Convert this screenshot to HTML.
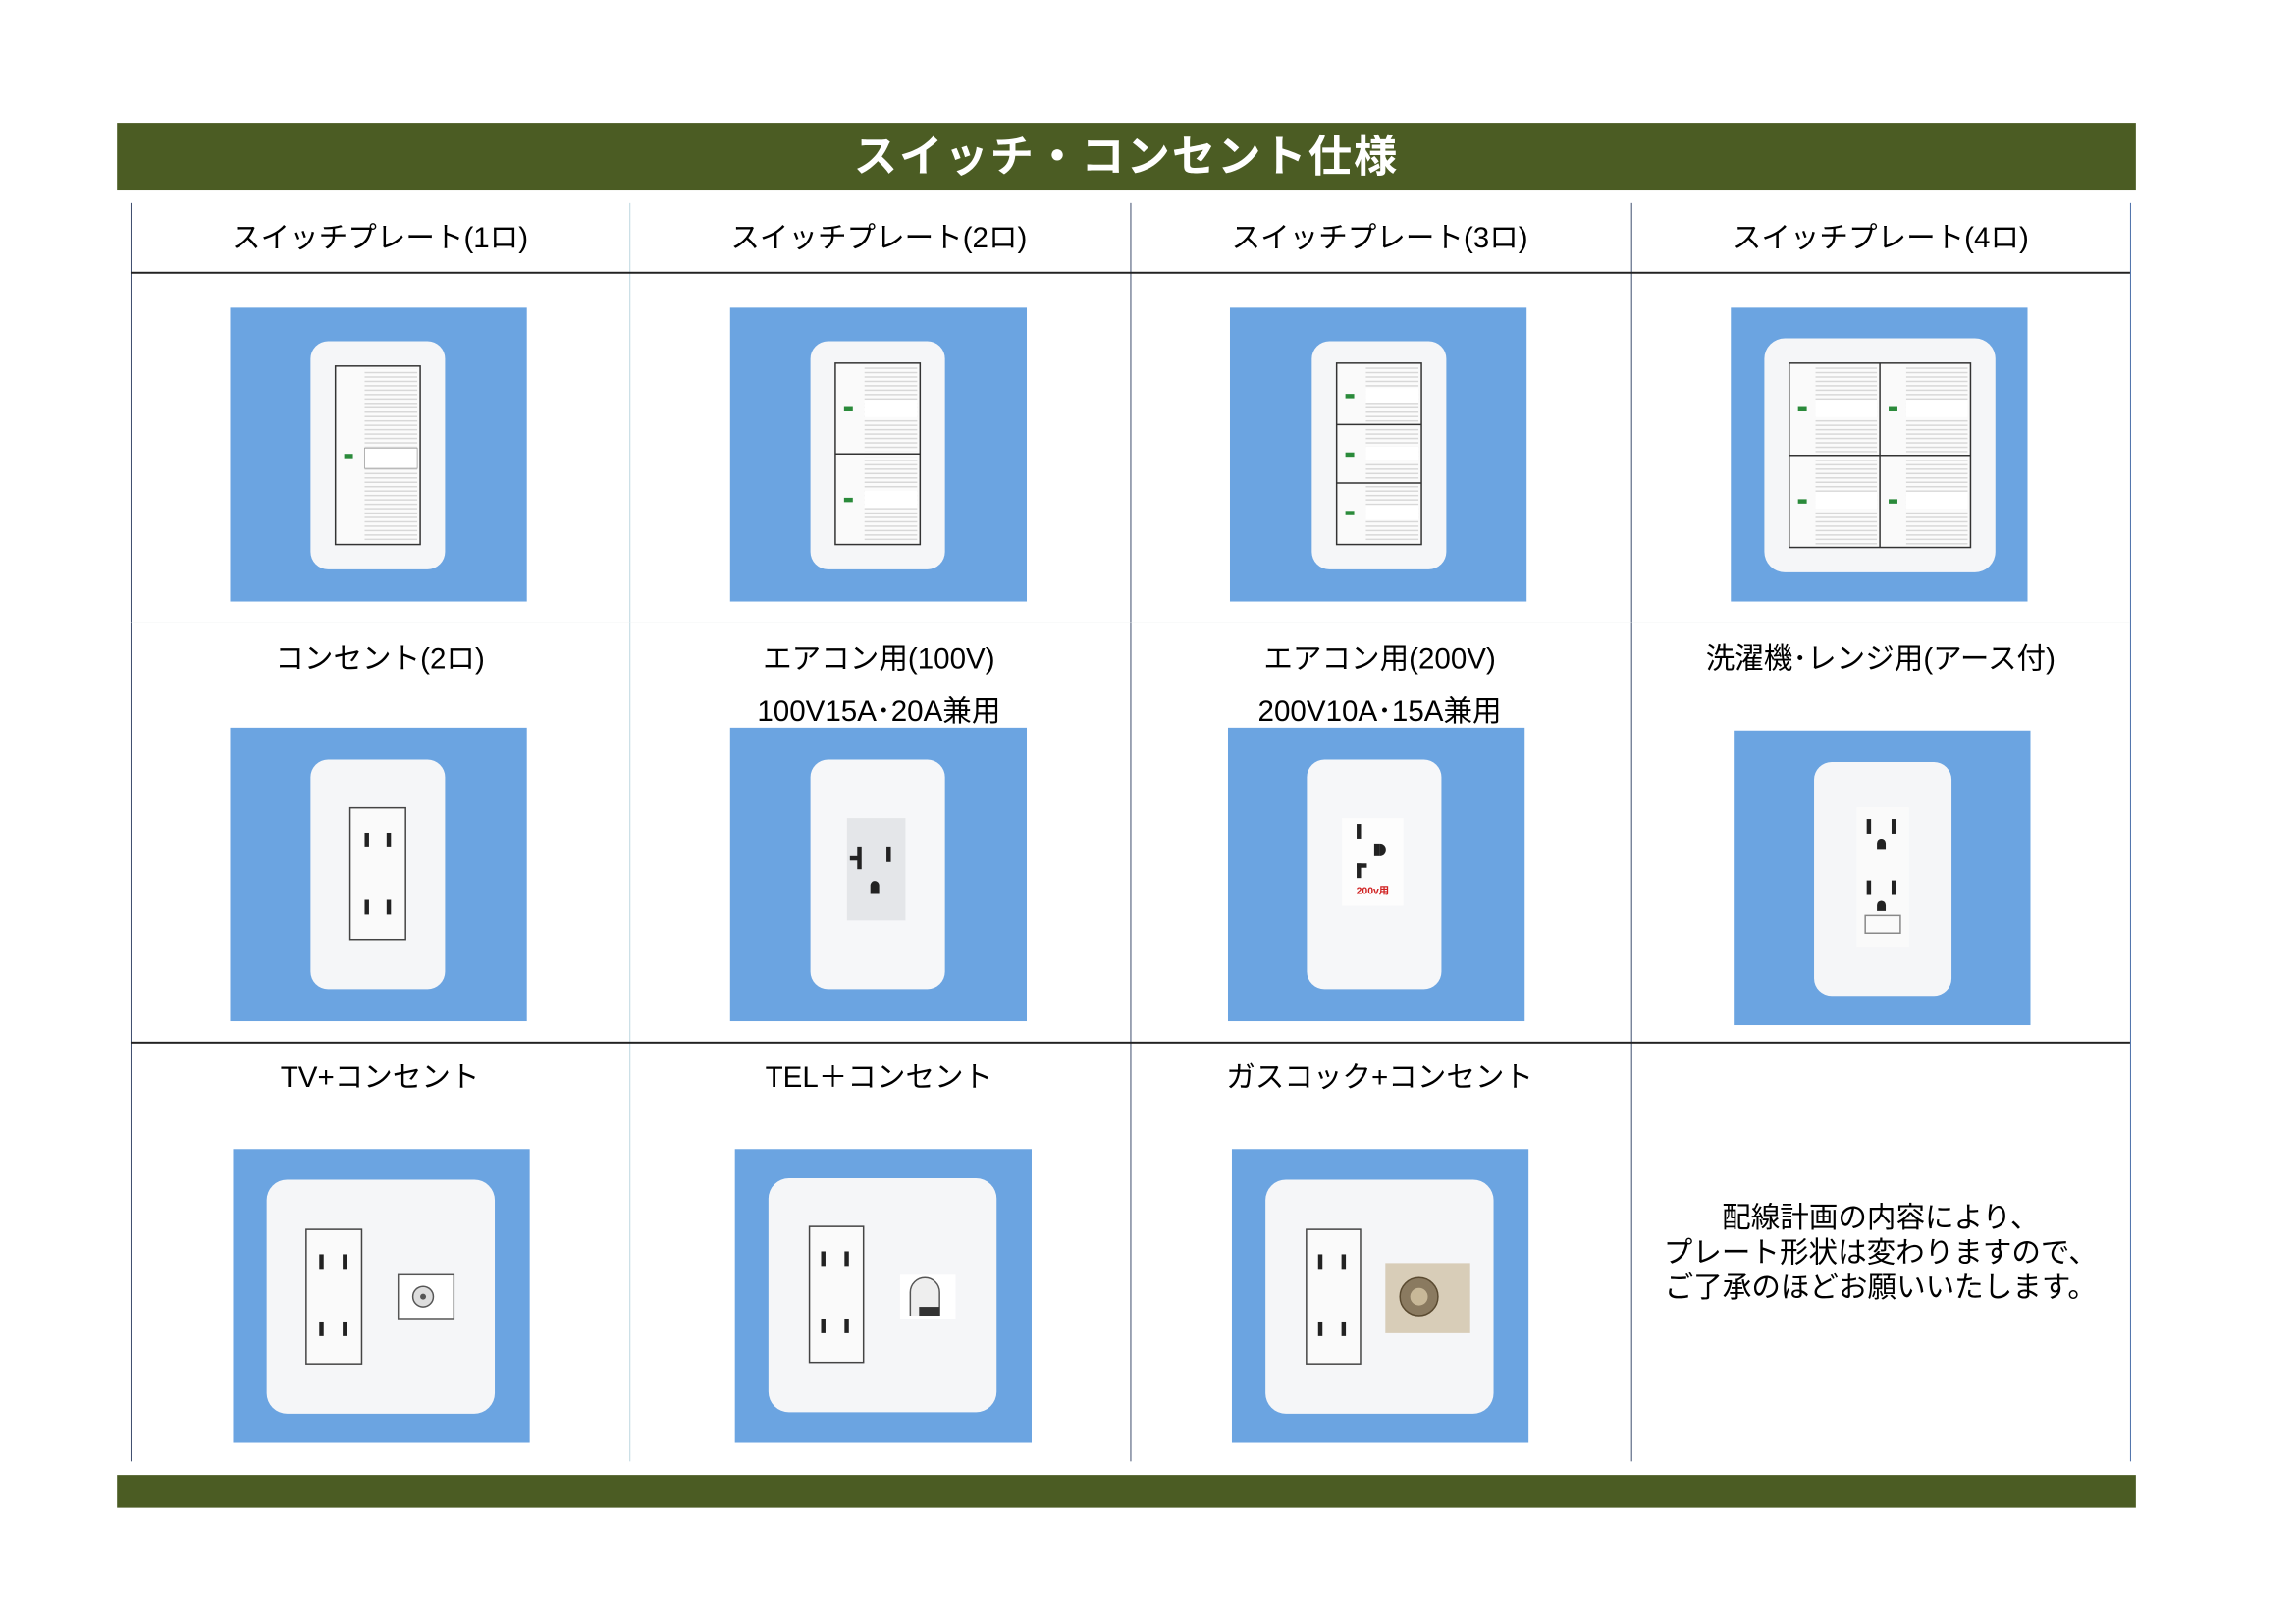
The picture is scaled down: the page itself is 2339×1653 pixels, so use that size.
<!DOCTYPE html>
<html><head><meta charset="utf-8"><style>
body{margin:0;width:2339px;height:1653px;background:#fff;position:relative;overflow:hidden;font-family:"Liberation Sans","Noto Sans CJK JP",sans-serif;}
#w{position:absolute;left:0;top:0;width:2339px;height:1653px;transform:scale(0.985);transform-origin:0 0;}
.a{position:absolute;}
.bar{background:#4b5c23;left:121px;width:2088px;}
.vl{position:absolute;width:1px;background:#3a4a6a;}
.hl{position:absolute;height:2px;background:#222;left:135px;width:2068px;}
.lb{position:absolute;width:516px;text-align:center;font-size:30px;color:#000;}
svg.b{position:absolute;width:307px;height:304px;}
</style></head><body><div id="w">
<div class="a bar" style="top:127px;height:70px;"></div>
<div class="a" style="top:127px;left:121px;width:2088px;height:70px;line-height:70px;text-align:center;color:#fff;font-size:45px;font-weight:bold;letter-spacing:2px;">スイッチ・コンセント仕様</div>
<div class="a bar" style="top:1525px;height:34px;"></div>

<div class="vl" style="left:135px;top:210px;height:1301px;"></div>
<div class="vl" style="left:651px;top:210px;height:1301px;background:#bcd6e0"></div>
<div class="vl" style="left:1169px;top:210px;height:1301px;"></div>
<div class="vl" style="left:1687px;top:210px;height:1301px;"></div>
<div class="vl" style="left:2203px;top:210px;height:1301px;background:#4a6ea8"></div>
<div class="hl" style="top:281px;"></div>
<div class="hl" style="top:643px;height:1px;background:#eef2f2"></div>
<div class="hl" style="top:1077px;"></div>

<div class="lb" style="left:135px;top:221px;">スイッチプレート(1ロ)</div>
<div class="lb" style="left:651px;top:221px;">スイッチプレート(2ロ)</div>
<div class="lb" style="left:1169px;top:221px;">スイッチプレート(3ロ)</div>
<div class="lb" style="left:1687px;top:221px;">スイッチプレート(4ロ)</div>
<div class="lb" style="left:135px;top:656px;">コンセント(2ロ)</div>
<div class="lb" style="left:651px;top:656px;">エアコン用(100V)</div>
<div class="lb" style="left:1169px;top:656px;">エアコン用(200V)</div>
<div class="lb" style="left:1687px;top:656px;">洗濯機･レンジ用(アース付)</div>
<div class="lb" style="left:651px;top:710px;">100V15A･20A兼用</div>
<div class="lb" style="left:1169px;top:710px;">200V10A･15A兼用</div>
<div class="lb" style="left:135px;top:1089px;">TV+コンセント</div>
<div class="lb" style="left:651px;top:1089px;">TEL＋コンセント</div>
<div class="lb" style="left:1169px;top:1089px;">ガスコック+コンセント</div>
<div class="lb" style="left:1687px;top:1242px;line-height:36px;">配線計画の内容により、<br>プレート形状は変わりますので、<br>ご了承のほどお願いいたします。</div>

<svg width="0" height="0" style="position:absolute"><defs>
<pattern id="st" width="4" height="3" patternUnits="userSpaceOnUse"><rect width="4" height="3" fill="#fbfbfb"/><rect y="2" width="4" height="1" fill="#d8d8d8"/></pattern>
</defs></svg>

<!-- row1 -->
<svg class="b" style="left:238px;top:318px" viewBox="0 0 203 201"><rect width="203" height="201" fill="#6ba4e1"/>
<rect x="55" y="23" width="92" height="156" rx="12" fill="#f5f6f8"/>
<rect x="72" y="40" width="58" height="122" fill="#fafafa" stroke="#333" stroke-width="1"/>
<rect x="92" y="42" width="36" height="118" fill="url(#st)"/><rect x="92" y="96" width="36" height="14" fill="#fff" stroke="#999" stroke-width=".5"/>
<rect x="78" y="100" width="6" height="3" fill="#2a8a3a"/></svg>

<svg class="b" style="left:755px;top:318px" viewBox="0 0 203 201"><rect width="203" height="201" fill="#6ba4e1"/>
<rect x="55" y="23" width="92" height="156" rx="12" fill="#f5f6f8"/>
<rect x="72" y="38" width="58" height="124" fill="#fafafa" stroke="#333"/><line x1="72" y1="100" x2="130" y2="100" stroke="#333"/>
<rect x="92" y="40" width="36" height="58" fill="url(#st)"/><rect x="92" y="102" width="36" height="58" fill="url(#st)"/>
<rect x="92" y="63" width="36" height="12" fill="#fff"/><rect x="92" y="125" width="36" height="12" fill="#fff"/>
<rect x="78" y="68" width="6" height="3" fill="#2a8a3a"/><rect x="78" y="130" width="6" height="3" fill="#2a8a3a"/></svg>

<svg class="b" style="left:1272px;top:318px" viewBox="0 0 203 201"><rect width="203" height="201" fill="#6ba4e1"/>
<rect x="56" y="23" width="92" height="156" rx="12" fill="#f5f6f8"/>
<rect x="73" y="38" width="58" height="124" fill="#fafafa" stroke="#333"/><line x1="73" y1="80" x2="131" y2="80" stroke="#333"/><line x1="73" y1="120" x2="131" y2="120" stroke="#333"/>
<rect x="93" y="40" width="36" height="38" fill="url(#st)"/><rect x="93" y="82" width="36" height="36" fill="url(#st)"/><rect x="93" y="122" width="36" height="38" fill="url(#st)"/>
<rect x="93" y="55" width="36" height="10" fill="#fff"/><rect x="93" y="95" width="36" height="10" fill="#fff"/><rect x="93" y="135" width="36" height="10" fill="#fff"/>
<rect x="79" y="59" width="6" height="3" fill="#2a8a3a"/><rect x="79" y="99" width="6" height="3" fill="#2a8a3a"/><rect x="79" y="139" width="6" height="3" fill="#2a8a3a"/></svg>

<svg class="b" style="left:1790px;top:318px" viewBox="0 0 203 201"><rect width="203" height="201" fill="#6ba4e1"/>
<rect x="23" y="21" width="158" height="160" rx="14" fill="#f5f6f8"/>
<rect x="40" y="38" width="124" height="126" fill="#fafafa" stroke="#333"/><line x1="102" y1="38" x2="102" y2="164" stroke="#333"/><line x1="40" y1="101" x2="164" y2="101" stroke="#333"/>
<rect x="58" y="40" width="42" height="59" fill="url(#st)"/><rect x="120" y="40" width="42" height="59" fill="url(#st)"/><rect x="58" y="103" width="42" height="59" fill="url(#st)"/><rect x="120" y="103" width="42" height="59" fill="url(#st)"/>
<rect x="58" y="63" width="42" height="12" fill="#fff"/><rect x="120" y="63" width="42" height="12" fill="#fff"/><rect x="58" y="126" width="42" height="12" fill="#fff"/><rect x="120" y="126" width="42" height="12" fill="#fff"/>
<rect x="46" y="68" width="6" height="3" fill="#2a8a3a"/><rect x="108" y="68" width="6" height="3" fill="#2a8a3a"/><rect x="46" y="131" width="6" height="3" fill="#2a8a3a"/><rect x="108" y="131" width="6" height="3" fill="#2a8a3a"/></svg>

<!-- row2 -->
<svg class="b" style="left:238px;top:752px" viewBox="0 0 203 201"><rect width="203" height="201" fill="#6ba4e1"/>
<rect x="55" y="22" width="92" height="157" rx="12" fill="#f5f6f8"/>
<rect x="82" y="55" width="38" height="90" fill="#fafafa" stroke="#444"/>
<rect x="92" y="72" width="3" height="10" fill="#222"/><rect x="107" y="72" width="3" height="10" fill="#222"/>
<rect x="92" y="118" width="3" height="10" fill="#222"/><rect x="107" y="118" width="3" height="10" fill="#222"/></svg>

<svg class="b" style="left:755px;top:752px" viewBox="0 0 203 201"><rect width="203" height="201" fill="#6ba4e1"/>
<rect x="55" y="22" width="92" height="157" rx="12" fill="#f6f7f9"/>
<rect x="80" y="62" width="40" height="70" fill="#e4e6e9"/>
<rect x="87" y="82" width="3" height="15" fill="#222"/><rect x="82" y="88" width="7" height="3" fill="#222"/><rect x="107" y="82" width="3" height="10" fill="#222"/>
<path d="M96 108 a3 3 0 0 1 6 0 v6 h-6z" fill="#222"/></svg>

<svg class="b" style="left:1270px;top:752px" viewBox="0 0 203 201"><rect width="203" height="201" fill="#6ba4e1"/>
<rect x="54" y="22" width="92" height="157" rx="12" fill="#f6f7f9"/>
<rect x="78" y="62" width="42" height="60" fill="#fdfdfd"/>
<rect x="88" y="66" width="3" height="10" fill="#222"/><path d="M104 80 a4 4 0 0 1 0 8z" fill="#222"/><rect x="100" y="80" width="4" height="8" fill="#222"/>
<rect x="88" y="93" width="3" height="10" fill="#222"/><rect x="88" y="93" width="7" height="3" fill="#222"/>
<text x="99" y="114" font-size="7" fill="#d02020" text-anchor="middle" font-weight="bold" font-family="Liberation Sans,Noto Sans CJK JP,sans-serif">200v用</text></svg>

<svg class="b" style="left:1793px;top:756px" viewBox="0 0 203 201"><rect width="203" height="201" fill="#6ba4e1"/>
<rect x="55" y="21" width="94" height="160" rx="12" fill="#f5f6f8"/>
<rect x="84" y="52" width="36" height="96" fill="#fafafa"/>
<rect x="91" y="60" width="3" height="10" fill="#222"/><rect x="108" y="60" width="3" height="10" fill="#222"/><path d="M98 77 a3 3 0 0 1 6 0 v4 h-6z" fill="#222"/>
<rect x="91" y="102" width="3" height="10" fill="#222"/><rect x="108" y="102" width="3" height="10" fill="#222"/><path d="M98 119 a3 3 0 0 1 6 0 v4 h-6z" fill="#222"/>
<rect x="90" y="126" width="24" height="12" fill="none" stroke="#888"/></svg>

<!-- row3 -->
<svg class="b" style="left:241px;top:1188px" viewBox="0 0 203 201"><rect width="203" height="201" fill="#6ba4e1"/>
<rect x="23" y="21" width="156" height="160" rx="14" fill="#f5f6f8"/>
<rect x="50" y="55" width="38" height="92" fill="#fafafa" stroke="#444"/>
<rect x="59" y="72" width="3" height="10" fill="#222"/><rect x="75" y="72" width="3" height="10" fill="#222"/><rect x="59" y="118" width="3" height="10" fill="#222"/><rect x="75" y="118" width="3" height="10" fill="#222"/>
<rect x="113" y="86" width="38" height="30" fill="#fff" stroke="#555"/><circle cx="130" cy="101" r="7" fill="#ddd" stroke="#555"/><circle cx="130" cy="101" r="2" fill="#555"/></svg>

<svg class="b" style="left:760px;top:1188px" viewBox="0 0 203 201"><rect width="203" height="201" fill="#6ba4e1"/>
<rect x="23" y="20" width="156" height="160" rx="14" fill="#f5f6f8"/>
<rect x="51" y="53" width="37" height="93" fill="#fafafa" stroke="#444"/>
<rect x="59" y="70" width="3" height="10" fill="#222"/><rect x="75" y="70" width="3" height="10" fill="#222"/><rect x="59" y="116" width="3" height="10" fill="#222"/><rect x="75" y="116" width="3" height="10" fill="#222"/>
<rect x="113" y="86" width="38" height="30" fill="#fff"/><path d="M120 114 v-16 a10 10 0 0 1 20 0 v16" fill="#eee" stroke="#555"/><rect x="126" y="108" width="14" height="6" fill="#333"/></svg>

<svg class="b" style="left:1274px;top:1188px" viewBox="0 0 203 201"><rect width="203" height="201" fill="#6ba4e1"/>
<rect x="23" y="21" width="156" height="160" rx="14" fill="#f5f6f8"/>
<rect x="51" y="55" width="37" height="92" fill="#fafafa" stroke="#444"/>
<rect x="59" y="72" width="3" height="10" fill="#222"/><rect x="75" y="72" width="3" height="10" fill="#222"/><rect x="59" y="118" width="3" height="10" fill="#222"/><rect x="75" y="118" width="3" height="10" fill="#222"/>
<rect x="105" y="78" width="58" height="48" fill="#d8cdb8"/><circle cx="128" cy="101" r="13" fill="#8a7a60" stroke="#5a4a30"/><circle cx="128" cy="101" r="6" fill="#c8b898"/></svg>
</div></body></html>
